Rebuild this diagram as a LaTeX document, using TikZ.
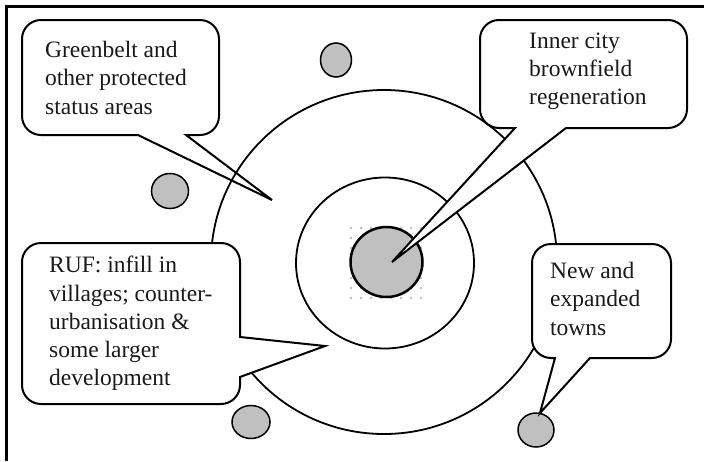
\documentclass[tikz,border=0pt]{standalone}
\usepackage{fontspec}
\setmainfont{Liberation Serif}
\usetikzlibrary{shapes.geometric}
\definecolor{townfill}{HTML}{C0C0C0}
\definecolor{dotgray}{HTML}{BDBDBD}
\definecolor{inkcol}{HTML}{1A1A1A}
\tikzset{
  framestyle/.style={line width=2.2pt, draw=black},
  ringstyle/.style={line width=1.8pt, draw=black},
  townstyle/.style={line width=1.5pt, draw=black, fill=townfill},
  citystyle/.style={line width=2.5pt, draw=black, fill=townfill},
  balloon/.style={line width=2pt, draw=black, fill=white, line join=miter},
  txt/.style={align=left, inner sep=0pt, anchor=north west, text=inkcol,
    font=\fontsize{23.5}{28.3}\selectfont},
}
\begin{document}
\begin{tikzpicture}[x=1pt,y=-1pt]
\useasboundingbox (0,0) rectangle (704,461);
% frame
\coordinate (fbl) at (6.5,461);
\coordinate (ftl) at (6.5,6.5);
\coordinate (ftr) at (704,6.5);
\draw[framestyle] (fbl) -- (ftl) -- (ftr);

% Greenbelt callout (drawn below the rings)
\draw[balloon] (186,135) [rounded corners=19] -- (219,135) -- (219,20) -- (22,20) -- (22,135) [sharp corners] -- (138,135) -- (272,200) -- cycle;
\node[txt] (green) at (45,41) {Greenbelt and\\other protected\\status areas};

% dotted patch behind the city
\foreach \i in {0,...,7}{
  \foreach \j in {0,...,7}{
    \fill[dotgray] (351+10*\i,228+10*\j) circle (1.3);
  }
}

% rings
\node[ringstyle, ellipse, minimum width=346pt, minimum height=344pt, inner sep=0pt] (outer) at (384,262) {};
\node[ringstyle, ellipse, minimum width=178pt, minimum height=171pt, inner sep=0pt] (inner) at (385,263) {};
\node[citystyle, ellipse, inner sep=0pt, minimum width=72pt, minimum height=70pt] (city) at (386.5,262) {};

% towns
\node[townstyle, ellipse, inner sep=0pt, minimum width=31pt, minimum height=34pt] (t1) at (336,60) {};
\node[townstyle, ellipse, inner sep=0pt, minimum width=37pt, minimum height=35pt] (t2) at (170,191) {};
\node[townstyle, ellipse, inner sep=0pt, minimum width=38pt, minimum height=33pt] (t3) at (251,422) {};
\node[townstyle, ellipse, inner sep=0pt, minimum width=36pt, minimum height=34pt] (t4) at (536,430) {};

% Inner city callout
\draw[balloon] (566,128) [rounded corners=19] -- (687,128) -- (687,20) -- (480,20) -- (480,128) [sharp corners] -- (515,128) -- (392,262) -- cycle;
\node[txt] (innercity) at (529,32.5) {Inner city\\brownfield\\regeneration};

% RUF callout
\draw[balloon] (240,377) [rounded corners=19] -- (240,404) -- (22,404) -- (22,243) -- (240,243) [sharp corners] -- (240,337) -- (325,346) -- cycle;
\node[txt] (ruf) at (49,256) {RUF: infill in\\villages; counter-\\urbanisation \&\\some larger\\development};

% New towns callout
\draw[balloon] (590,358) [rounded corners=19] -- (671,358) -- (671,244) -- (532,244) -- (532,358) [sharp corners] -- (555,358) -- (540,413) -- cycle;
\node[txt] (newtowns) at (550,262) {New and\\expanded\\towns};
\end{tikzpicture}
\end{document}
